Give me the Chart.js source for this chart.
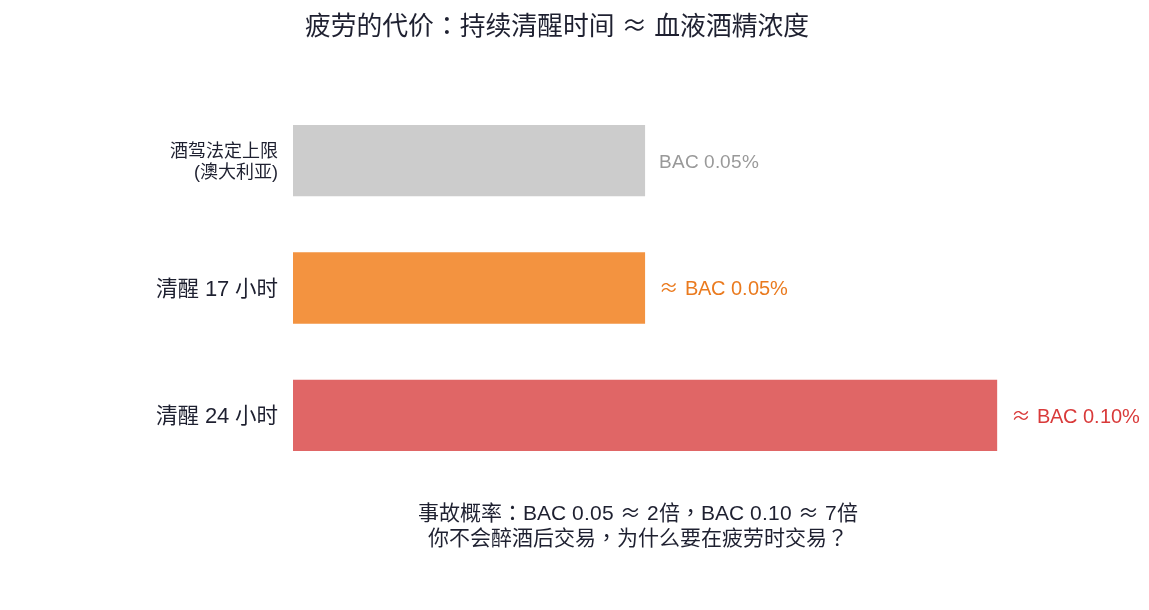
<!DOCTYPE html>
<html><head><meta charset="utf-8">
<script src="https://cdn.jsdelivr.net/npm/chart.js@4"></script>
<style>
@font-face { font-family: "LatinOnly"; src: local("Liberation Sans"); unicode-range: U+0000-00FF; }
html,body{margin:0;padding:0;background:#fff}#wrap{width:1149px;height:610px;position:relative}
</style>
</head><body><div id="wrap"><canvas id="c" width="1149" height="610"></canvas></div>
<script>
const categories = [["酒驾法定上限", "(澳大利亚)"], "清醒 17 小时", "清醒 24 小时"];
const bacValues = [0.05, 0.05, 0.10];
const valueLabels = ["BAC 0.05%", "≈ BAC 0.05%", "≈ BAC 0.10%"];
const barColors = ["#cccccc", "#f39340", "#e06666"];
const labelColors = ["#999999", "#ea7a1e", "#d93a3a"];
const titleText = "疲劳的代价：持续清醒时间 ≈ 血液酒精浓度";
const noteLines = ["事故概率：BAC 0.05 ≈ 2倍，BAC 0.10 ≈ 7倍", "你不会醉酒后交易，为什么要在疲劳时交易？"];

const FONT = "LatinOnly, 'Noto Sans CJK TC', sans-serif";
const DARK = "#1e2030";

const textPlugin = {
  id: 'textPlugin',
  afterDatasetsDraw(chart) {
    const ctx = chart.ctx;
    const meta = chart.getDatasetMeta(0);
    ctx.save();
    ctx.textBaseline = 'middle';
    ctx.textAlign = 'left';
    meta.data.forEach((bar, i) => {
      ctx.font = (i === 0 ? "19px " : "19.5px ") + FONT;
      ctx.fillStyle = labelColors[i];
      ctx.fillText(valueLabels[i], bar.x + 14, bar.y + 2);
    });
    ctx.textAlign = 'center';
    ctx.fillStyle = DARK;
    ctx.font = "25.8px " + FONT;
    ctx.fillText(titleText, 557, 28);
    ctx.font = "21px " + FONT;
    ctx.fillText(noteLines[0], 638, 514);
    ctx.fillText(noteLines[1], 638, 539);
    ctx.restore();
  }
};

function draw() {
  new Chart(document.getElementById('c'), {
    type: 'bar',
    data: {
      labels: categories,
      datasets: [{
        data: bacValues,
        backgroundColor: barColors,
        borderWidth: 0,
        barPercentage: 0.56,
        categoryPercentage: 1.0
      }]
    },
    options: {
      indexAxis: 'y',
      responsive: false,
      animation: false,
      layout: { padding: { top: 97, bottom: 131, left: 0, right: 11 } },
      plugins: { legend: { display: false }, title: { display: false }, tooltip: { enabled: false } },
      scales: {
        x: { display: false, min: 0, max: 0.12 },
        y: {
          grid: { display: false, drawTicks: false },
          border: { display: false },
          afterFit(scale) { scale.width = 293; },
          ticks: {
            padding: 15,
            labelOffset: 2,
            color: DARK,
            font: (c) => ({ family: FONT, size: c.index === 0 ? 18 : 21.5, lineHeight: 1.17 })
          }
        }
      }
    },
    plugins: [textPlugin]
  });
}
Promise.all([
  document.fonts.load("20px LatinOnly", "BAC 0.05"),
  document.fonts.load("20px 'Noto Sans CJK TC'", "清醒≈")
]).then(draw, draw);
</script></body></html>
